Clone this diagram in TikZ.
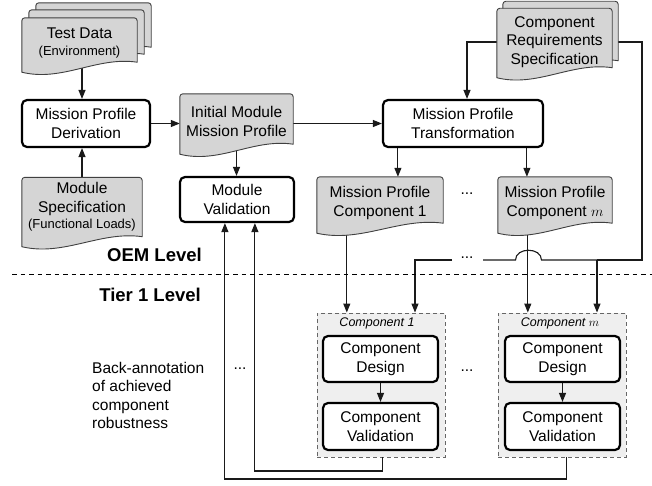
\documentclass[tikz,border=0pt]{standalone}
\usepackage{fontspec}
\setmainfont{Liberation Sans}
\usetikzlibrary{calc,arrows.meta}
\pgfdeclarelayer{bg}
\pgfdeclarelayer{conn}
\pgfdeclarelayer{docs}
\pgfsetlayers{bg,conn,docs,main}

\definecolor{docgray}{HTML}{D5D5D5}
\definecolor{boxgray}{HTML}{EFEFEF}
\definecolor{lineblk}{HTML}{1A1A1A}

\tikzset{
  every node/.style={font=\fontsize{15.5}{18.5}\selectfont, inner sep=0pt, align=center},
  procbox/.style={draw=black, line width=2.2pt, rounded corners=5pt, fill=white},
  docnode/.style={draw=none},
  docstyle/.style={draw=black!75, line width=0.9pt, fill=docgray},
  cbox/.style={draw=black!60, dash pattern=on 4pt off 3pt, line width=0.9pt, fill=boxgray},
  conn/.style={draw=lineblk, line width=1.1pt},
  arr/.style={conn, -{Triangle[length=9pt,width=7pt]}},
  lvl/.style={font=\fontsize{18.5}{22}\selectfont\bfseries},
  clabel/.style={font=\fontsize{12.5}{14}\selectfont\itshape},
}

% document outline around node #1, shifted by (#2,#3), top edge raised by #4
\newcommand\docpath[4]{%
  \path[docstyle]
    ($(#1.south west)+(#2,#3+10)$) [rounded corners=3pt]
    -- ($(#1.north west)+(#2,#3-#4)$)
    -- ($(#1.north east)+(#2,#3-#4)$) [sharp corners]
    -- ($(#1.south east)+(#2,#3)$)
    .. controls ($(#1.south east)!0.35!(#1.south west)+(#2,#3-6)$)
       and ($(#1.south west)!0.35!(#1.south east)+(#2,#3+20)$)
    .. ($(#1.south west)+(#2,#3+10)$) -- cycle;}

\begin{document}
\begin{tikzpicture}[x=1pt, y=-1pt]
\useasboundingbox (0,0) rectangle (652,485);

% ---------- documents ----------
\node[docnode, minimum width=115pt, minimum height=38pt] (td) at (79.5,43) {Test Data\\[-1pt]{\fontsize{13}{15}\selectfont (Environment)}};
\node[docnode, minimum width=120pt, minimum height=59pt] (ms) at (82,207) {Module\\Specification\\[-2pt]{\fontsize{13}{15}\selectfont (Functional Loads)}};
\node[docnode, minimum width=113pt, minimum height=45pt] (imm) at (236.5,121.5) {Initial Module\\Mission Profile};
\node[docnode, minimum width=115pt, minimum height=48pt] (crs) at (554.5,42) {Component\\Requirements\\Specification};
\node[docnode, minimum width=126pt, minimum height=40pt] (mpc1) at (380,203) {Mission Profile\\Component 1};
\node[docnode, minimum width=114pt, minimum height=40pt] (mpcm) at (555,203) {Mission Profile\\Component $m$};

\begin{pgfonlayer}{docs}
  \docpath{td}{14}{-15}{6}
  \docpath{td}{7}{-8}{6}
  \docpath{td}{0}{0}{6}
  \docpath{ms}{0}{0}{0}
  \docpath{imm}{0}{0}{5}
  \docpath{crs}{6}{-7}{8}
  \docpath{crs}{0}{0}{8}
  \docpath{mpc1}{0}{0}{6}
  \docpath{mpcm}{0}{0}{6}
\end{pgfonlayer}

% top edges of the documents that receive arrows
\coordinate (mpc1top) at ([yshift=6pt]mpc1.north);
\coordinate (mpcmtop) at ([yshift=6pt]mpcm.north);

% ---------- process boxes ----------
\node[procbox, minimum width=128pt, minimum height=47pt] (mpd) at (86,123.5) {Mission Profile\\Derivation};
\node[procbox, minimum width=114pt, minimum height=45pt] (mv) at (237,199.5) {Module\\Validation};
\node[procbox, minimum width=160pt, minimum height=47pt] (mpt) at (463,123.5) {Mission Profile\\Transformation};

\node[procbox, minimum width=115pt, minimum height=46pt] (cd1) at (380.5,359) {Component\\Design};
\node[procbox, minimum width=115pt, minimum height=47pt] (cv1) at (380.5,426.5) {Component\\Validation};
\node[procbox, minimum width=115pt, minimum height=46pt] (cdm) at (562.5,359) {Component\\Design};
\node[procbox, minimum width=115pt, minimum height=47pt] (cvm) at (562.5,426.5) {Component\\Validation};

% ---------- component containers ----------
\begin{pgfonlayer}{bg}
  \node[cbox, minimum width=128pt, minimum height=144pt] (c1) at (381,385) {};
  \node[cbox, minimum width=128pt, minimum height=144pt] (cm) at (562,385) {};
\end{pgfonlayer}
\node[clabel] (c1lab) at (377,323) {Component 1};
\node[clabel] (cmlab) at (560,323) {Component $m$};

% ---------- level separation ----------
\coordinate (sepL) at (12,274);
\coordinate (sepR) at (652,274);
\draw[line width=1pt, dash pattern=on 4.5pt off 4pt] (sepL) -- (sepR);
\node[lvl, anchor=east] (oem) at (202,255) {OEM Level};
\node[lvl, anchor=east] (tier) at (201,295) {Tier 1 Level};

\node[anchor=west, align=left] (ba) at (92,395.5) {Back-annotation\\of achieved\\component\\robustness};

% ---------- dots ----------
\node (d1) at (467,194) {...};
\node (d2) at (467,371) {...};
\node (d3) at (240,369) {...};
\node (d4) at (467,258) {...};

% ---------- connectors ----------
\coordinate (tdx) at (82,0);
\coordinate (jl) at (467,42);
\coordinate (jr) at (642,42);
\coordinate (jd) at (642,260);
\coordinate (jt) at (597,260);
\coordinate (b1) at (541.5,260);
\coordinate (b2) at (515.5,260);
\coordinate (d4r) at (483,260);
\coordinate (d4l) at (452,260);
\coordinate (k1) at (415,260);
\coordinate (t1) at ([xshift=16pt]mpt.south west);
\coordinate (tm) at ([xshift=145pt]mpt.south west);
\coordinate (p1) at ([xshift=30pt]mpc1.south west);
\coordinate (pm) at ([xshift=30pt]mpcm.south west);
\coordinate (f1) at ([xshift=66pt]c1.south west);
\coordinate (fm) at ([xshift=69pt]cm.south west);
\coordinate (g1) at ([xshift=76pt]mv.south west);
\coordinate (gm) at ([xshift=46pt]mv.south west);
\coordinate (r1) at (0,471);
\coordinate (r2) at (0,479);

\begin{pgfonlayer}{conn}
  \draw[arr] (tdx |- td.south) -- (tdx |- mpd.north);
  \draw[arr] (tdx |- ms.north) -- (tdx |- mpd.south);
  \draw[arr] (mpd.east) -- (mpd.east -| imm.west);
  \draw[arr] (imm.south) -- (imm.south |- mv.north);
  \draw[arr] (imm.east |- mpt.west) -- (mpt.west);
  \draw[arr] (crs.west |- jl) -- (jl) -- (jl |- mpt.north);
  \draw[arr] (t1) -- (t1 |- mpc1top);
  \draw[arr] (tm) -- (tm |- mpcmtop);
  \draw[arr] (p1) -- (p1 |- c1.north);
  \draw[arr] (pm) -- (pm |- cm.north);
  \draw[conn] (crs.east |- jr) -- (jr) -- (jd) -- (jt);
  \draw[arr] (jt) -- (jt |- cm.north);
  \draw[conn] (jt) -- (b1) .. controls ($(b1)+(0,-13)$) and ($(b2)+(0,-13)$) .. (b2) -- (d4r);
  \draw[arr] (d4l) -- (k1) -- (k1 |- c1.north);
  \draw[arr] (cd1) -- (cv1);
  \draw[arr] (cdm) -- (cvm);
  \draw[arr] (f1) -- (f1 |- r1) -| (g1);
  \draw[arr] (fm) -- (fm |- r2) -| (gm);
\end{pgfonlayer}
\end{tikzpicture}
\end{document}
